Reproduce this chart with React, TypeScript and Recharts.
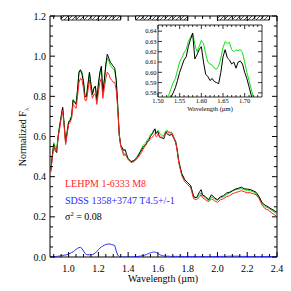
import React from "react";
import { ComposedChart, Line, XAxis, YAxis, ReferenceArea } from "recharts";

// wavelength grid (micron)
const WAVE = [
  0.88, 0.89, 0.9, 0.91, 0.92, 0.93, 0.94, 0.95, 0.96, 0.97,
  0.98, 0.99, 1.0, 1.01, 1.02, 1.03, 1.04, 1.05, 1.06, 1.07,
  1.08, 1.09, 1.1, 1.11, 1.12, 1.13, 1.14, 1.15, 1.16, 1.17,
  1.18, 1.19, 1.2, 1.21, 1.22, 1.23, 1.24, 1.25, 1.26, 1.27,
  1.28, 1.29, 1.3, 1.31, 1.32, 1.33, 1.34,
  1.35, 1.36, 1.37, 1.38, 1.39, 1.4, 1.42, 1.44, 1.46, 1.48, 1.5, 1.51,
  1.52, 1.525, 1.53, 1.535, 1.54, 1.545, 1.55, 1.555, 1.56, 1.565,
  1.57, 1.575, 1.58, 1.585, 1.59, 1.595, 1.6, 1.605, 1.61, 1.615,
  1.62, 1.625, 1.63, 1.635, 1.64, 1.645, 1.65, 1.655, 1.66, 1.665,
  1.67, 1.675, 1.68, 1.685, 1.69, 1.695, 1.7, 1.705, 1.71, 1.715, 1.72,
  1.73, 1.74, 1.76, 1.78, 1.8, 1.82, 1.84, 1.86, 1.88, 1.89,
  1.9, 1.92, 1.94, 1.96, 1.98, 2.0, 2.02, 2.04, 2.06, 2.08,
  2.1, 2.12, 2.14, 2.16, 2.18, 2.2, 2.22, 2.24, 2.26, 2.28,
  2.3, 2.32, 2.34, 2.36, 2.38, 2.4,
];

// observed spectrum (black)
const OBSERVED = [
  0.43, 0.5, 0.56, 0.53, 0.52, 0.6, 0.65, 0.7, 0.745, 0.66,
  0.57, 0.62, 0.67, 0.68, 0.7, 0.78, 0.77, 0.76, 0.83, 0.92,
  0.93, 0.91, 0.87, 0.8, 0.8, 0.86, 0.92, 0.86, 0.81, 0.84,
  0.85, 0.78, 0.86, 0.92, 0.95, 0.82, 0.88, 0.96, 1.01, 0.99,
  0.97, 0.96, 0.95, 0.94, 0.88, 0.75, 0.61,
  0.555, 0.545, 0.53, 0.535, 0.51, 0.49, 0.475, 0.48, 0.495, 0.52, 0.545, 0.555,
  0.56, 0.568, 0.576, 0.58, 0.585, 0.592, 0.6, 0.606, 0.612, 0.615,
  0.625, 0.632, 0.638, 0.613, 0.617, 0.622, 0.625, 0.61, 0.598, 0.596,
  0.592, 0.594, 0.591, 0.59, 0.589, 0.6, 0.615, 0.622, 0.614, 0.612,
  0.608, 0.61, 0.604, 0.61, 0.611, 0.608, 0.6, 0.594, 0.586, 0.578, 0.568,
  0.53, 0.475, 0.415, 0.385, 0.37, 0.355, 0.3, 0.295, 0.325, 0.335,
  0.31, 0.3, 0.285, 0.31, 0.295, 0.285, 0.3, 0.305, 0.318, 0.322,
  0.33, 0.338, 0.342, 0.348, 0.34, 0.338, 0.336, 0.33, 0.322, 0.3,
  0.27, 0.258, 0.25, 0.24, 0.232, 0.222,
];

// LEHPM 1-6333 M8 (red)
const PRIMARY = [
  0.42, 0.49, 0.55, 0.54, 0.53, 0.6, 0.64, 0.69, 0.73, 0.65,
  0.56, 0.61, 0.66, 0.67, 0.69, 0.76, 0.75, 0.74, 0.8, 0.87,
  0.89, 0.88, 0.84, 0.78, 0.78, 0.83, 0.88, 0.83, 0.79, 0.81,
  0.81, 0.76, 0.82, 0.87, 0.89, 0.79, 0.84, 0.89, 0.92, 0.91,
  0.89, 0.88, 0.87, 0.87, 0.83, 0.74, 0.61,
  0.55, 0.53, 0.505, 0.51, 0.5, 0.485, 0.47, 0.475, 0.49, 0.51, 0.535, 0.548,
  0.558, 0.565, 0.57, 0.574, 0.577, 0.583, 0.59, 0.592, 0.596, 0.598,
  0.605, 0.609, 0.614, 0.604, 0.598, 0.605, 0.613, 0.611, 0.603, 0.597,
  0.597, 0.597, 0.595, 0.596, 0.6, 0.609, 0.619, 0.625, 0.624, 0.625,
  0.618, 0.617, 0.619, 0.618, 0.619, 0.616, 0.607, 0.597, 0.589, 0.581, 0.573,
  0.525, 0.47, 0.405, 0.375, 0.36, 0.345, 0.29, 0.285, 0.3, 0.31,
  0.295, 0.285, 0.275, 0.29, 0.28, 0.272, 0.285, 0.29, 0.3, 0.305,
  0.315, 0.32, 0.325, 0.33, 0.325, 0.32, 0.32, 0.315, 0.31, 0.29,
  0.258, 0.24, 0.235, 0.222, 0.212, 0.202,
];

// composite M8 + T4.5 (green)
const COMPOSITE = [
  0.43, 0.5, 0.57, 0.55, 0.535, 0.61, 0.66, 0.7, 0.745, 0.665,
  0.575, 0.625, 0.675, 0.685, 0.705, 0.785, 0.775, 0.765, 0.835, 0.925,
  0.935, 0.92, 0.88, 0.8, 0.795, 0.86, 0.915, 0.86, 0.81, 0.845,
  0.85, 0.78, 0.86, 0.91, 0.935, 0.82, 0.88, 0.95, 0.99, 0.975,
  0.955, 0.945, 0.935, 0.93, 0.88, 0.76, 0.615,
  0.56, 0.54, 0.51, 0.515, 0.5, 0.49, 0.475, 0.48, 0.5, 0.525, 0.555, 0.563,
  0.57, 0.578, 0.584, 0.59, 0.594, 0.602, 0.61, 0.614, 0.619, 0.622,
  0.63, 0.634, 0.638, 0.627, 0.62, 0.625, 0.631, 0.628, 0.618, 0.61,
  0.608, 0.607, 0.604, 0.603, 0.606, 0.614, 0.624, 0.63, 0.628, 0.629,
  0.622, 0.62, 0.622, 0.621, 0.622, 0.619, 0.61, 0.6, 0.592, 0.584, 0.576,
  0.535, 0.48, 0.415, 0.385, 0.37, 0.355, 0.3, 0.295, 0.31, 0.32,
  0.305, 0.295, 0.28, 0.3, 0.29, 0.282, 0.295, 0.3, 0.31, 0.318,
  0.328, 0.335, 0.338, 0.34, 0.335, 0.332, 0.33, 0.325, 0.315, 0.295,
  0.265, 0.25, 0.245, 0.235, 0.225, 0.215,
];

// SDSS 1358+3747 T4.5 (blue)
const SECONDARY = [
  0, 0, 0.001, 0.002, 0.003, 0.004, 0.005, 0.006, 0.008, 0.009,
  0.01, 0.012, 0.015, 0.018, 0.022, 0.026, 0.032, 0.038, 0.043, 0.047,
  0.048, 0.042, 0.03, 0.018, 0.012, 0.011, 0.011, 0.012, 0.012, 0.015,
  0.02, 0.028, 0.036, 0.044, 0.05, 0.055, 0.059, 0.062, 0.064, 0.065,
  0.064, 0.062, 0.06, 0.057, 0.03, 0.01, 0.002,
  0.001, 0, 0, 0, 0, 0, 0, 0.001, 0.002, 0.004, 0.007, 0.009,
  0.012, 0.013, 0.015, 0.016, 0.018, 0.019, 0.021, 0.022, 0.023, 0.024,
  0.025, 0.025, 0.024, 0.023, 0.022, 0.02, 0.018, 0.015, 0.013, 0.011,
  0.009, 0.008, 0.007, 0.006, 0.005, 0.005, 0.004, 0.004, 0.004, 0.004,
  0.004, 0.004, 0.003, 0.003, 0.003, 0.003, 0.003, 0.003, 0.003, 0.003, 0.003,
  0.003, 0.003, 0.003, 0.002, 0.002, 0.002, 0.002, 0.002, 0.002, 0.002,
  0.002, 0.002, 0.002, 0.002, 0.002, 0.002, 0.003, 0.003, 0.003, 0.004,
  0.004, 0.004, 0.004, 0.003, 0.003, 0.003, 0.002, 0.002, 0.002, 0.002,
  0.002, 0.002, 0.002, 0.002, 0.002, 0.002,
];

// fit regions marked at the top (hatched)
const FIT_REGIONS = [
  [0.95, 1.35],
  [1.45, 1.8],
  [2.0, 2.35],
];

const X_MAJOR = [1.0, 1.2, 1.4, 1.6, 1.8, 2.0, 2.2, 2.4];
const X_MINOR = [0.9, 0.95, 1.05, 1.1, 1.15, 1.25, 1.3, 1.35, 1.45, 1.5, 1.55, 1.65, 1.7, 1.75,
  1.85, 1.9, 1.95, 2.05, 2.1, 2.15, 2.25, 2.3, 2.35];
const Y_MAJOR = [0, 0.2, 0.4, 0.6, 0.8, 1.0, 1.2];
const Y_MINOR = [0.05, 0.1, 0.15, 0.25, 0.3, 0.35, 0.45, 0.5, 0.55, 0.65, 0.7, 0.75,
  0.85, 0.9, 0.95, 1.05, 1.1, 1.15];

const INSET_X_MAJOR = [1.5, 1.55, 1.6, 1.65, 1.7];
const INSET_X_MINOR = [1.51, 1.52, 1.53, 1.54, 1.56, 1.57, 1.58, 1.59, 1.61, 1.62, 1.63, 1.64,
  1.66, 1.67, 1.68, 1.69, 1.71, 1.72, 1.73];
const INSET_Y_MAJOR = [0.58, 0.59, 0.6, 0.61, 0.62, 0.63, 0.64];

const LABELS = {
  primary: "LEHPM 1-6333 M8",
  secondary: "SDSS 1358+3747 T4.5+/-1",
  sigma: "0.08",
  xTitle: "Wavelength (\u00b5m)",
  yTitle: "Normalized F",
};

const COLORS = { obs: "#000000", prim: "#ff2424", comp: "#10e010", sec: "#2a2aff" };
const FONT = "'Liberation Serif', 'DejaVu Serif', serif";

// main plot frame
const TOP = 16;
const RIGHT = 277;
// inset plot frame (local coords of the inset chart)
const IN_TOP = 10;
const IN_RIGHT = 134;

const data = WAVE.map((w, i) => ({
  w,
  obs: OBSERVED[i],
  prim: PRIMARY[i],
  comp: COMPOSITE[i],
  sec: SECONDARY[i],
}));

const isIn = (arr: number[], v: number) => arr.some((a) => Math.abs(a - v) < 1e-6);

const XTick = (props: any) => {
  const { x, y, payload } = props;
  const major = isIn(X_MAJOR, payload.value);
  const len = major ? 5 : 3;
  return (
    <g>
      <line x1={x} x2={x} y1={y} y2={y - len} stroke="#000" />
      <line x1={x} x2={x} y1={TOP} y2={TOP + len} stroke="#000" />
      {major && (
        <text x={x} y={y + 11.5} dy="0.35em" textAnchor="middle" fontFamily={FONT} fontSize={10} fill="#000">
          {payload.value.toFixed(1)}
        </text>
      )}
    </g>
  );
};

const YTick = (props: any) => {
  const { x, y, payload } = props;
  const major = isIn(Y_MAJOR, payload.value);
  const len = major ? 5 : 3;
  return (
    <g>
      <line x1={x} x2={x + len} y1={y} y2={y} stroke="#000" />
      <line x1={RIGHT - len} x2={RIGHT} y1={y} y2={y} stroke="#000" />
      {major && (
        <text x={x - 4} y={y} dy="0.35em" textAnchor="end" fontFamily={FONT} fontSize={10} fill="#000">
          {payload.value.toFixed(1)}
        </text>
      )}
    </g>
  );
};

const InsetXTick = (props: any) => {
  const { x, y, payload } = props;
  const major = isIn(INSET_X_MAJOR, payload.value);
  const len = major ? 4 : 2;
  return (
    <g>
      <line x1={x} x2={x} y1={y} y2={y - len} stroke="#000" strokeWidth={0.8} />
      <line x1={x} x2={x} y1={IN_TOP} y2={IN_TOP + len} stroke="#000" strokeWidth={0.8} />
      {major && (
        <text x={x} y={y + 4} dy="0.35em" textAnchor="middle" fontFamily={FONT} fontSize={6.5} fill="#000">
          {payload.value.toFixed(2)}
        </text>
      )}
    </g>
  );
};

const InsetYTick = (props: any) => {
  const { x, y, payload } = props;
  return (
    <g>
      <line x1={x} x2={x + 4} y1={y} y2={y} stroke="#000" strokeWidth={0.8} />
      <line x1={IN_RIGHT - 4} x2={IN_RIGHT} y1={y} y2={y} stroke="#000" strokeWidth={0.8} />
      <text x={x - 1.5} y={y} dy="0.35em" textAnchor="end" fontFamily={FONT} fontSize={6.5} fill="#000">
        {payload.value.toFixed(2)}
      </text>
    </g>
  );
};

export default function App() {
  return (
    <div style={{ position: "absolute", left: 0, top: 0, width: 291, height: 291, background: "#fff" }}>
      <ComposedChart width={291} height={291} data={data} margin={{ top: TOP, right: 291 - RIGHT, left: 0, bottom: 0 }}>
        <defs>
          <pattern id="hatch" patternUnits="userSpaceOnUse" width={4} height={4}>
            <rect width={4} height={4} fill="#fff" />
            <path d="M-1,1 L1,-1 M0,4 L4,0 M3,5 L5,3" stroke="#000" strokeWidth={0.7} />
          </pattern>
        </defs>
        <XAxis
          dataKey="w"
          type="number"
          domain={[0.875, 2.4]}
          ticks={[...X_MAJOR, ...X_MINOR].sort((a, b) => a - b)}
          interval={0}
          allowDataOverflow
          axisLine={false}
          tickLine={false}
          tickSize={0}
          tickMargin={0}
          height={34}
          tick={<XTick />}
        />
        <YAxis
          type="number"
          domain={[0, 1.2]}
          ticks={[...Y_MAJOR, ...Y_MINOR].sort((a, b) => a - b)}
          interval={0}
          allowDataOverflow
          axisLine={false}
          tickLine={false}
          tickSize={0}
          tickMargin={0}
          width={50}
          tick={<YTick />}
        />
        <ReferenceArea x1={0.875} x2={2.4} y1={0} y2={1.2} fill="none" stroke="#000" strokeWidth={1} />
        {FIT_REGIONS.map(([a, b]) => (
          <ReferenceArea key={a} x1={a} x2={b} y1={1.18} y2={1.2} fill="url(#hatch)" fillOpacity={1} stroke="#000" strokeWidth={0.8} />
        ))}
        <Line dataKey="comp" stroke={COLORS.comp} strokeWidth={1} dot={false} isAnimationActive={false} />
        <Line dataKey="obs" stroke={COLORS.obs} strokeWidth={1} dot={false} isAnimationActive={false} />
        <Line dataKey="prim" stroke={COLORS.prim} strokeWidth={1} dot={false} isAnimationActive={false} />
        <Line dataKey="sec" stroke={COLORS.sec} strokeWidth={1} dot={false} isAnimationActive={false} />
      </ComposedChart>

      <div style={{ position: "absolute", left: 128, top: 15 }}>
        <ComposedChart width={140} height={100} data={data} margin={{ top: IN_TOP, right: 140 - IN_RIGHT, left: 0, bottom: 0 }}>
          <XAxis
            dataKey="w"
            type="number"
            domain={[1.5, 1.74]}
            ticks={[...INSET_X_MAJOR, ...INSET_X_MINOR].sort((a, b) => a - b)}
            interval={0}
            allowDataOverflow
            axisLine={false}
            tickLine={false}
            tickSize={0}
            tickMargin={0}
            height={18}
            tick={<InsetXTick />}
          />
          <YAxis
            type="number"
            domain={[0.576, 0.646]}
            ticks={INSET_Y_MAJOR}
            interval={0}
            allowDataOverflow
            axisLine={false}
            tickLine={false}
            tickSize={0}
            tickMargin={0}
            width={30}
            tick={<InsetYTick />}
          />
          <ReferenceArea x1={1.5} x2={1.74} y1={0.576} y2={0.646} fill="none" stroke="#000" strokeWidth={0.8} />
          <Line dataKey="comp" stroke={COLORS.comp} strokeWidth={1} dot={false} isAnimationActive={false} />
          <Line dataKey="obs" stroke={COLORS.obs} strokeWidth={1} dot={false} isAnimationActive={false} />
        </ComposedChart>
      </div>

      <svg width={291} height={291} style={{ position: "absolute", left: 0, top: 0, pointerEvents: "none" }}>
        <g fontFamily={FONT} fontSize={10}>
          <text x={65} y={186.5} fill={COLORS.prim}>{LABELS.primary}</text>
          <text x={65} y={203.5} fill={COLORS.sec}>{LABELS.secondary}</text>
          <text x={65} y={219.5} fill="#000">
            {"\u03c3"}
            <tspan dy={-4} fontSize={6.5}>2</tspan>
            <tspan dy={4}>{" = " + LABELS.sigma}</tspan>
          </text>
          <text x={163} y={281.5} textAnchor="middle" fill="#000">{LABELS.xTitle}</text>
          <text transform="translate(26,137) rotate(-90)" textAnchor="middle" fill="#000">
            {LABELS.yTitle}
            <tspan dy={2.5} fontSize={7}>{"\u03bb"}</tspan>
          </text>
        </g>
        <text x={210} y={110.5} textAnchor="middle" fontFamily={FONT} fontSize={6.5} fill="#000">{LABELS.xTitle}</text>
      </svg>
    </div>
  );
}
